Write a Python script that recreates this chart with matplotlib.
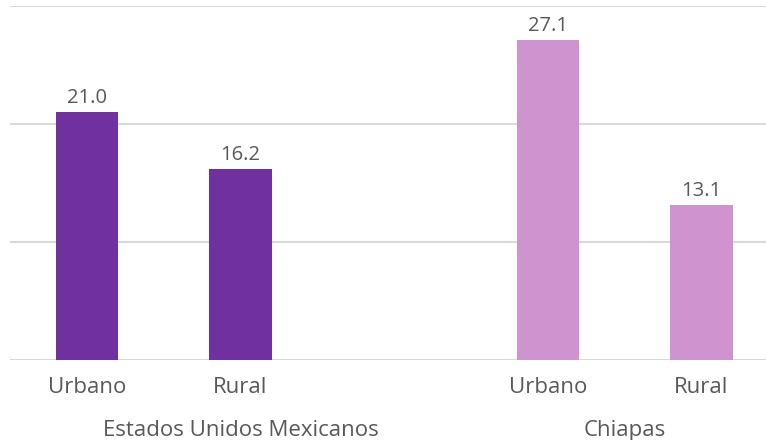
import numpy as np
import matplotlib.pyplot as plt

# data
categories = ["Urbano", "Rural", "Urbano", "Rural"]
values = [21.0, 16.2, 27.1, 13.1]
groups = ["Estados Unidos Mexicanos", "Chiapas"]
colors = ["#7030a0", "#7030a0", "#cf94cf", "#cf94cf"]

positions = np.array([0, 1, 3, 4])
text_color = "#595959"

plt.rcParams['font.family'] = ['Open Sans', 'DejaVu Sans']

fig = plt.figure(figsize=(7.66, 4.4), dpi=100)
ax = fig.add_axes([10 / 766, 80 / 440, 756 / 766, 354 / 440])

ax.bar(positions, values, width=0.404, color=colors, zorder=3)
for x, v in zip(positions, values):
    ax.annotate(f"{v:.1f}", (x, v), xytext=(0, 3), textcoords="offset points",
                ha="center", va="bottom", fontsize=14.5, color=text_color)

ax.set_xlim(-0.5, 4.42)
ax.set_ylim(0, 30)
ax.set_yticks([0, 10, 20, 30])
ax.yaxis.grid(True, color="#d9d9d9", linewidth=1.5, zorder=0)
ax.tick_params(axis="y", left=False, labelleft=False)
ax.tick_params(axis="x", bottom=False, labelsize=16, labelcolor=text_color, pad=9)
ax.set_xticks(positions)
ax.set_xticklabels(categories)
for s in ax.spines.values():
    s.set_visible(False)

# group labels
ax.text(1.0, -0.2, groups[0], transform=ax.get_xaxis_transform(), ha="center",
        va="center", fontsize=16, color=text_color)
ax.text(3.5, -0.2, groups[1], transform=ax.get_xaxis_transform(), ha="center",
        va="center", fontsize=16, color=text_color)

fig.savefig("out.png", dpi=100)
